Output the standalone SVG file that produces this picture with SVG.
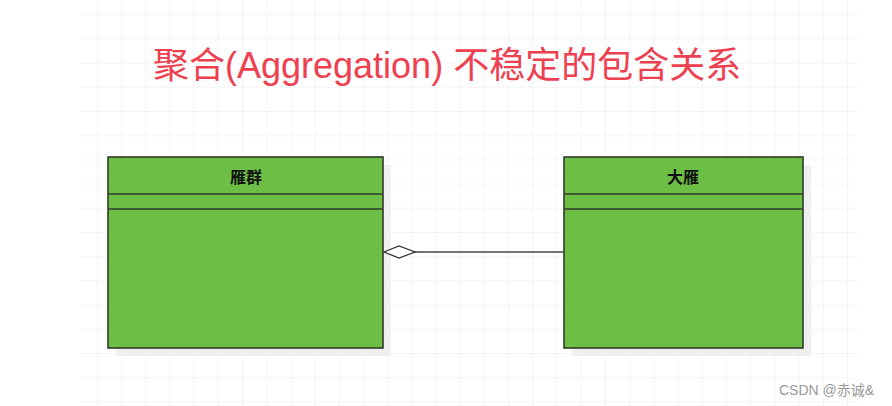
<svg xmlns="http://www.w3.org/2000/svg" width="892" height="406" viewBox="0 0 892 406">
  <defs>
    <pattern id="grid" x="1" y="-9" width="24.2" height="24.2" patternUnits="userSpaceOnUse">
      <path d="M 24.2 0 L 24.2 24.2 M 0 24.2 L 24.2 24.2" fill="none" stroke="#ececec" stroke-width="1"/>
    </pattern>
    <marker id="diamond" markerWidth="34" markerHeight="14" refX="1" refY="7" orient="auto" markerUnits="userSpaceOnUse">
      <path d="M1,7 L16,1 L32,7 L16,13 Z" fill="#fff" stroke="#333" stroke-width="1.3"/>
    </marker>
    <style>
      .box { fill: #6cbe45; stroke: #2f3b2a; stroke-width: 1.6; }
      .shadow { fill: #efefef; }
      .div { stroke: #2f3b2a; stroke-width: 1.6; }
      .lbl { font-family: "Noto Sans CJK SC", sans-serif; font-size: 16px; font-weight: bold; fill: #111; text-anchor: middle; }
      .title { font-family: "Liberation Sans", "Noto Sans CJK SC", sans-serif; font-size: 36px; fill: #ee4050; }
      .wm { font-family: "Liberation Sans", "Noto Sans CJK SC", sans-serif; font-size: 14px; fill: #999; }
      .conn { stroke: #444; stroke-width: 1.6; fill: none; }
    </style>
  </defs>
  <rect width="892" height="406" fill="#fff"/>
  <rect x="80" y="0" width="777" height="406" fill="url(#grid)"/>
  <text class="title" x="153" y="78">聚合(Aggregation) 不稳定的包含关系</text>

  <g id="node-yanqun">
    <rect class="shadow" x="116" y="165" width="275" height="191"/>
    <rect class="box" x="108" y="157" width="275" height="191"/>
    <line class="div" x1="108" y1="194" x2="383" y2="194"/>
    <line class="div" x1="108" y1="209" x2="383" y2="209"/>
    <text class="lbl" x="246" y="183">雁群</text>
  </g>

  <g id="node-dayan">
    <rect class="shadow" x="572" y="165" width="239" height="191"/>
    <rect class="box" x="564" y="157" width="239" height="191"/>
    <line class="div" x1="564" y1="194" x2="803" y2="194"/>
    <line class="div" x1="564" y1="209" x2="803" y2="209"/>
    <text class="lbl" x="683" y="183">大雁</text>
  </g>

  <g id="connectors">
    <line class="conn" x1="384" y1="252" x2="564" y2="252" marker-start="url(#diamond)"/>
  </g>

  <text class="wm" x="779" y="395">CSDN @赤诚&amp;</text>
</svg>
